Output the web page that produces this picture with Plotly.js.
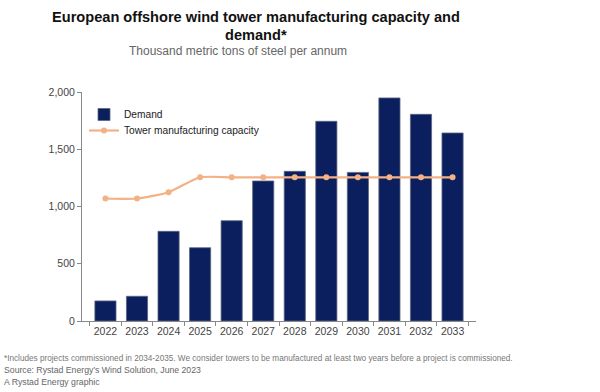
<!DOCTYPE html>
<html>
<head>
<meta charset="utf-8">
<script src="https://cdn.plot.ly/plotly-3.0.1.min.js"></script>
<style>html,body{margin:0;padding:0;background:#fff;}#chart{width:600px;height:392px;}</style>
</head>
<body>
<div id="chart"></div>
<script>
var years = ['2022','2023','2024','2025','2026','2027','2028','2029','2030','2031','2032','2033'];
var demand = [175, 216, 783, 640, 876, 1223, 1307, 1744, 1298, 1948, 1805, 1642];
var capacity = [1070, 1070, 1125, 1255, 1255, 1255, 1255, 1255, 1255, 1255, 1255, 1255];
var yTicks = [0, 500, 1000, 1500, 2000];
var yTickText = ['0', '500', '1,000', '1,500', '2,000'];

var traces = [
  {
    type: 'bar', name: 'Demand', x: years, y: demand, legend: 'legend',
    marker: {color: '#0b1f5e', line: {color: '#5a6680', width: 0.8}}
  },
  {
    type: 'scatter', mode: 'lines+markers', name: 'Tower manufacturing capacity',
    x: years, y: capacity, legend: 'legend2',
    line: {color: '#f3b185', width: 2.2, shape: 'spline', smoothing: 0.6},
    marker: {color: '#f3b185', size: 6}
  }
];

function py(pix) { return (321 - pix) / 229; }
function px(pix) { return (pix - 82) / 394; }

var legendBase = {xanchor: 'left', yanchor: 'top', bgcolor: 'rgba(0,0,0,0)',
                  font: {size: 10.2, color: '#222'}, itemwidth: 30};

var layout = {
  width: 600, height: 392,
  margin: {l: 82, r: 124, t: 92, b: 71},
  paper_bgcolor: '#fff', plot_bgcolor: '#fff',
  font: {family: 'Liberation Sans, Arial, sans-serif', color: '#444', size: 11},
  showlegend: true,
  legend: Object.assign({}, legendBase, {x: px(84), y: py(100)}),
  legend2: Object.assign({}, legendBase, {x: px(84), y: py(116)}),
  bargap: 0.33,
  xaxis: {
    type: 'category', showgrid: false, showline: true, linecolor: '#888', linewidth: 1,
    ticks: 'outside', ticklen: 4, tickcolor: '#888', tickson: 'boundaries', tickangle: 0,
    tickfont: {size: 10.5, color: '#444'}, zeroline: false
  },
  yaxis: {
    range: [0, 2000], tickvals: yTicks, ticktext: yTickText, showgrid: false,
    showline: true, linecolor: '#888', linewidth: 1, ticks: 'outside', ticklen: 4,
    tickcolor: '#888', tickfont: {size: 10.5, color: '#444'}, zeroline: false
  },
  annotations: [
    {xref: 'paper', yref: 'paper', x: px(256), xanchor: 'center', y: py(17), yanchor: 'middle',
     showarrow: false, text: '<b>European offshore wind tower manufacturing capacity and</b>',
     font: {size: 14.6, color: '#111'}},
    {xref: 'paper', yref: 'paper', x: px(256), xanchor: 'center', y: py(35), yanchor: 'middle',
     showarrow: false, text: '<b>demand*</b>',
     font: {size: 14.6, color: '#111'}},
    {xref: 'paper', yref: 'paper', x: px(238), xanchor: 'center', y: py(51), yanchor: 'middle',
     showarrow: false, text: 'Thousand metric tons of steel per annum',
     font: {size: 12, color: '#666'}},
    {xref: 'paper', yref: 'paper', x: px(2), xanchor: 'left', y: py(358), yanchor: 'middle',
     showarrow: false, align: 'left',
     text: '*Includes projects commissioned in 2034-2035. We consider towers to be manufactured at least two years before a project is commissioned.',
     font: {size: 8.2, color: '#777'}},
    {xref: 'paper', yref: 'paper', x: px(2), xanchor: 'left', y: py(370), yanchor: 'middle',
     showarrow: false, align: 'left', text: 'Source: Rystad Energy\u2019s Wind Solution, June 2023',
     font: {size: 8.7, color: '#666'}},
    {xref: 'paper', yref: 'paper', x: px(2), xanchor: 'left', y: py(382), yanchor: 'middle',
     showarrow: false, align: 'left', text: 'A Rystad Energy graphic',
     font: {size: 8.7, color: '#666'}}
  ]
};

Plotly.newPlot('chart', traces, layout, {displayModeBar: false, staticPlot: true});
</script>
</body>
</html>
